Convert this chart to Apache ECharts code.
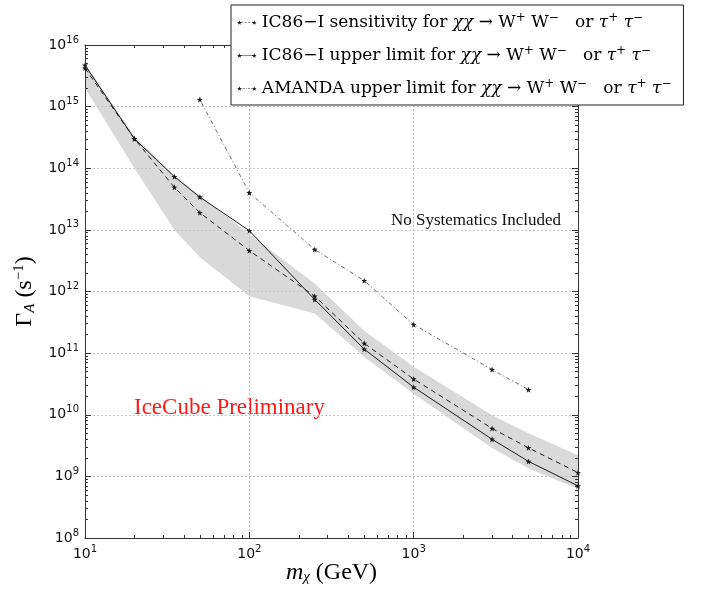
<!DOCTYPE html>
<html>
<head>
    <meta charset="UTF-8">
    <title>IC86-I annihilation rate limits</title>
    <script src="https://cdn.jsdelivr.net/npm/echarts@6/dist/echarts.min.js"></script>
    <style>
        body, html { margin: 0; padding: 0; background: #fff; }
        #main { width: 702px; height: 592px; }
    </style>
</head>
<body>
<div id="main"></div>
<script>
    // data (mass in GeV, rate in s^-1)
    const massGeV = [10, 20, 35, 50, 100, 250, 500, 1000, 3000, 5000, 10000];
    const sensitivity = [4.2e15, 3.0e14, 4.9e13, 1.9e13, 4.6e12, 8.4e11, 1.44e11, 3.8e10, 6.0e9, 2.9e9, 1.15e9];
    const upperLimit = [4.7e15, 3.0e14, 7.3e13, 3.4e13, 9.7e12, 7.4e11, 1.16e11, 2.8e10, 4.0e9, 1.75e9, 7.0e8];
    const bandUpper = [5.0e15, 3.3e14, 7.6e13, 3.6e13, 8.5e12, 1.35e12, 2.3e11, 6.0e10, 9.8e9, 5.0e9, 2.2e9];
    const bandLower = [2.0e15, 1.0e14, 1.0e13, 3.6e12, 8.4e11, 4.4e11, 8.7e10, 2.2e10, 2.9e9, 1.34e9, 6.3e8];
    const amandaMass = [50, 100, 250, 500, 1000, 3000, 5000];
    const amandaLimit = [1.3e15, 4.0e13, 4.8e12, 1.5e12, 2.9e11, 5.4e10, 2.55e10];

    const xDecades = [1, 2, 3, 4];
    const yDecades = [8, 9, 10, 11, 12, 13, 14, 15, 16];

    const serif = '"Liberation Serif", "DejaVu Serif", serif';
    const wideSerif = '"DejaVu Serif", serif';
    const sans = '"DejaVu Sans", sans-serif';
    const ink = '#1a1a1a';

    function starPath(cx, cy, r) {
        let d = '';
        for (let k = 0; k < 10; k++) {
            const rr = k % 2 ? r * 0.4 : r;
            const a = -Math.PI / 2 + k * Math.PI / 5;
            d += (k ? 'L' : 'M') + (cx + rr * Math.cos(a)).toFixed(2) + ',' + (cy + rr * Math.sin(a)).toFixed(2);
        }
        return d + 'Z';
    }
    const star = 'path://' + starPath(0, 0, 10);

    // legend icons: star, line pattern, star (like matplotlib's two-marker legend)
    function legendIcon(pattern) {
        const r = 2.6, h = 0.35, cy = 2.6;
        let d = starPath(r, cy, r) + starPath(20 - r, cy, r);
        let x = r + 1.2;
        const stop = 20 - r - 1.2;
        let i = 0;
        while (x < stop) {
            const seg = pattern[i % pattern.length];
            const end = Math.min(x + seg[0], stop);
            d += 'M' + x.toFixed(2) + ',' + (cy - h) + 'L' + end.toFixed(2) + ',' + (cy - h) +
                 'L' + end.toFixed(2) + ',' + (cy + h) + 'L' + x.toFixed(2) + ',' + (cy + h) + 'Z';
            x = end + seg[1];
            i++;
        }
        return 'path://' + d;
    }

    function minorsOf(decades) {
        let out = [];
        for (let i = 0; i < decades.length - 1; i++) {
            for (let k = 2; k <= 9; k++) out.push(decades[i] + Math.log10(k));
        }
        return out;
    }

    function pairs(xs, ys) {
        return xs.map((x, i) => [x, ys[i]]);
    }

    const tickLabelRich = {
        b: { fontFamily: sans, fontSize: 14, color: '#111' },
        s: { fontFamily: sans, fontSize: 10, color: '#111', padding: [0, 0, 10, 0] }
    };
    function decadeLabel(v) {
        return '{b|10}{s|' + Math.round(Math.log10(v)) + '}';
    }

    // tick-only axes in exponent space (ticks on all four sides)
    function tickAxis(pos, range, values, len, showLine) {
        return {
            type: 'value', position: pos, min: range[0], max: range[1],
            axisLine: { show: showLine, lineStyle: { color: '#333', width: 1 } },
            axisTick: { show: true, inside: true, length: len, customValues: values, lineStyle: { color: '#333' } },
            axisLabel: { show: false }, splitLine: { show: false }
        };
    }

    const legendText = {
        sens: '{t|IC86\u2212I sensitivity for }',
        ul: '{t|IC86\u2212I upper limit for }',
        amanda: '{t|AMANDA upper limit for }'
    };
    const channel = '{i|\u03c7\u03c7}{t| \u2192 W}{sup|+}{t| W}{sup|\u2212}{t|   or }{i|\u03c4}{sup|+}{t| }{i|\u03c4}{sup|\u2212}';

    const chart = echarts.init(document.getElementById('main'));

    const option = {
        backgroundColor: '#fff',
        animation: false,
        grid: { left: 85, right: 124, top: 45, bottom: 54, outerBoundsMode: 'none', containLabel: false },
        legend: {
            left: 231, top: 5, orient: 'vertical',
            itemWidth: 20, itemHeight: 4.7, itemGap: 14,
            padding: [7, 12, 8, 6],
            backgroundColor: '#fff', borderColor: '#222', borderWidth: 1,
            data: [
                { name: 'sens', icon: legendIcon([[2.2, 1.6]]) },
                { name: 'ul', icon: legendIcon([[20, 0]]) },
                { name: 'amanda', icon: legendIcon([[0.7, 1.2], [2.2, 1.2]]) }
            ],
            formatter: name => legendText[name] + channel,
            textStyle: {
                rich: {
                    t: { fontFamily: wideSerif, fontSize: 17, color: '#000' },
                    i: { fontFamily: wideSerif, fontSize: 17, fontStyle: 'italic', color: '#000' },
                    sup: { fontFamily: wideSerif, fontSize: 12, color: '#000', padding: [0, 0, 9, 0] }
                }
            }
        },
        xAxis: [
            {
                type: 'log', logBase: 10, min: 10, max: 10000, position: 'bottom',
                name: '{i|m}{sub|\u03c7}{t| (GeV)}', nameLocation: 'middle', nameGap: 22,
                nameMoveOverlap: false,
                nameTextStyle: {
                    rich: {
                        i: { fontFamily: serif, fontSize: 24, fontStyle: 'italic', color: '#000' },
                        sub: { fontFamily: serif, fontSize: 15, fontStyle: 'italic', color: '#000', padding: [10, 0, 0, 0] },
                        t: { fontFamily: serif, fontSize: 24, color: '#000' }
                    }
                },
                axisLine: { show: true, lineStyle: { color: '#333' } },
                axisTick: { show: true, inside: true, length: 6, lineStyle: { color: '#333' } },
                axisLabel: { formatter: decadeLabel, margin: 6, rich: tickLabelRich },
                splitLine: { show: true, lineStyle: { color: '#c4c4c4', type: [2, 2], width: 1 } },
                minorTick: { show: false }
            },
            tickAxis('bottom', [1, 4], minorsOf(xDecades), 3, false),
            tickAxis('top', [1, 4], xDecades, 6, true),
            tickAxis('top', [1, 4], minorsOf(xDecades), 3, false)
        ],
        yAxis: [
            {
                type: 'log', logBase: 10, min: 1e8, max: 1e16, position: 'left',
                name: '{g|\u0393}{sub|A}{g| (s}{sup|\u22121}{g|)}', nameLocation: 'middle', nameGap: 46, nameRotate: 90,
                nameTextStyle: {
                    rich: {
                        g: { fontFamily: serif, fontSize: 24, color: '#000' },
                        sub: { fontFamily: serif, fontSize: 15, fontStyle: 'italic', color: '#000', padding: [10, 0, 0, 0] },
                        sup: { fontFamily: serif, fontSize: 15, color: '#000', padding: [0, 0, 11, 0] }
                    }
                },
                axisLine: { show: true, lineStyle: { color: '#333' } },
                axisTick: { show: true, inside: true, length: 6, lineStyle: { color: '#333' } },
                axisLabel: { formatter: decadeLabel, margin: 6, rich: tickLabelRich },
                splitLine: { show: true, lineStyle: { color: '#c4c4c4', type: [2, 2], width: 1 } },
                minorTick: { show: false }
            },
            tickAxis('left', [8, 16], minorsOf(yDecades), 3, false),
            tickAxis('right', [8, 16], yDecades, 6, true),
            tickAxis('right', [8, 16], minorsOf(yDecades), 3, false)
        ],
        series: [
            {
                // systematic band, drawn as one polygon through the axis scales
                type: 'custom', name: 'band', z: -1, silent: true,
                data: [0],
                renderItem: function (params, api) {
                    let pts = [];
                    massGeV.forEach((m, i) => pts.push(api.coord([m, bandUpper[i]])));
                    for (let i = massGeV.length - 1; i >= 0; i--) pts.push(api.coord([massGeV[i], bandLower[i]]));
                    return {
                        type: 'polygon',
                        shape: { points: pts },
                        style: { fill: '#d9d9d9', stroke: null }
                    };
                }
            },
            {
                name: 'sens', type: 'line', data: pairs(massGeV, sensitivity),
                symbol: star, symbolSize: 6, showAllSymbol: true,
                itemStyle: { color: ink },
                lineStyle: { color: ink, width: 1, type: [5, 4] }
            },
            {
                name: 'ul', type: 'line', data: pairs(massGeV, upperLimit),
                symbol: star, symbolSize: 6, showAllSymbol: true,
                itemStyle: { color: ink },
                lineStyle: { color: ink, width: 1 }
            },
            {
                name: 'amanda', type: 'line', data: pairs(amandaMass, amandaLimit),
                symbol: star, symbolSize: 6, showAllSymbol: true,
                itemStyle: { color: ink },
                lineStyle: { color: '#444', width: 0.8, type: [1, 2.5, 4, 2.5] }
            }
        ],
        graphic: [
            {
                type: 'text', left: 391, top: 212,
                style: { text: 'No Systematics Included', font: '17px ' + serif, fill: '#111' }
            },
            {
                type: 'text', left: 134, top: 396,
                style: { text: 'IceCube Preliminary', font: '23px ' + serif, fill: '#ff1a1a' }
            }
        ]
    };

    chart.setOption(option);
</script>
</body>
</html>
